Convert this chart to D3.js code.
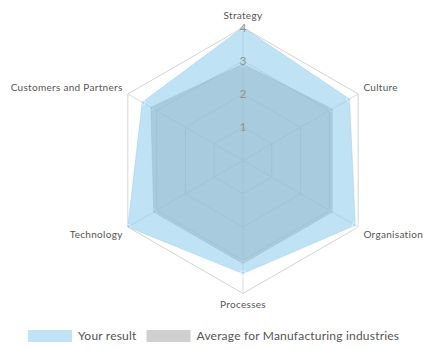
<!DOCTYPE html>
<html>
<head>
<meta charset="utf-8">
<script src="https://cdn.jsdelivr.net/npm/d3@7"></script>
<style>
  html, body { margin: 0; padding: 0; background: #fff; }
  svg { display: block; font-family: Lato, "Noto Sans", sans-serif; }
</style>
</head>
<body>
<svg id="chart" width="437" height="350"></svg>
<script>
// Radar axes, clockwise from the top
const categories = ["Strategy", "Culture", "Organisation", "Processes", "Technology", "Customers and Partners"];
// Scores per axis
const yourResult = [4, 3.7, 3.9, 3.4, 4, 3.5];
const industryAverage = [2.9, 3.1, 3.1, 3.1, 3.1, 3.2];
// Radial ticks
const ticks = [1, 2, 3, 4];
const seriesNames = ["Your result", "Average for Manufacturing industries"];

const svg = d3.select("#chart");
const cx = 243, cy = 160.5, R = 133;
const r = d3.scaleLinear().domain([0, 4]).range([0, R]);
const step = 2 * Math.PI / categories.length;
const ang = i => i * step;
const px = (i, v) => cx + r(v) * Math.sin(ang(i));
const py = (i, v) => cy - r(v) * Math.cos(ang(i));

const g = svg.append("g");

// Grid rings
ticks.forEach(t => {
  g.append("polygon")
    .attr("points", categories.map((c, i) => [px(i, t), py(i, t)].join(",")).join(" "))
    .attr("fill", "none")
    .attr("stroke", t === 4 ? "#d4d4d4" : "#dcdcdc")
    .attr("stroke-width", 1);
});
// Spokes
categories.forEach((c, i) => {
  g.append("line")
    .attr("x1", cx).attr("y1", cy)
    .attr("x2", px(i, 4)).attr("y2", py(i, 4))
    .attr("stroke", "#dcdcdc").attr("stroke-width", 1);
});

const line = d3.lineRadial()
  .angle((d, i) => ang(i))
  .radius(d => r(d))
  .curve(d3.curveLinearClosed);

const series = [
  { values: industryAverage, fill: "rgba(150,150,150,0.45)", stroke: "rgba(150,150,150,0.3)" },
  { values: yourResult, fill: "rgba(135,200,235,0.52)", stroke: "rgba(135,200,235,0.4)" }
];

series.forEach(s => {
  const sg = g.append("g").attr("transform", `translate(${cx},${cy})`);
  sg.append("path").attr("d", line(s.values)).attr("fill", s.fill).attr("stroke", s.stroke);
  sg.selectAll("circle").data(s.values).join("circle")
    .attr("cx", (d, i) => r(d) * Math.sin(ang(i)))
    .attr("cy", (d, i) => -r(d) * Math.cos(ang(i)))
    .attr("r", 3)
    .attr("fill", "none")
    .attr("stroke", "rgba(255,255,255,0.5)")
    .attr("stroke-width", 1);
});

// Tick labels along the top spoke
g.selectAll("text.tick").data(ticks).join("text")
  .attr("class", "tick")
  .attr("x", cx)
  .attr("y", d => cy - r(d))
  .attr("dy", "0.35em")
  .attr("text-anchor", "middle")
  .attr("font-size", 12)
  .attr("fill", "#929292")
  .text(d => d);

// Axis labels
categories.forEach((c, i) => {
  const a = ang(i);
  const s = Math.sin(a), co = Math.cos(a);
  let x, y, anchor;
  if (Math.abs(s) > 0.1) {
    anchor = s > 0 ? "start" : "end";
    x = cx + (R + 6) * s;
    y = cy - (R + 14) * co;
  } else {
    anchor = "middle";
    x = cx;
    y = co > 0 ? cy - R - 12 : cy + R + 11;
  }
  g.append("text")
    .attr("x", x).attr("y", y)
    .attr("dy", "0.35em")
    .attr("text-anchor", anchor)
    .attr("font-size", 10)
    .attr("letter-spacing", 0.3)
    .attr("fill", "#555")
    .text(c);
});

// Legend
const legend = svg.append("g").attr("transform", "translate(28,330)");
const legendFills = ["rgba(135,200,235,0.52)", "rgba(150,150,150,0.45)"];
let lx = 0;
seriesNames.forEach((n, i) => {
  const item = legend.append("g").attr("transform", `translate(${lx},0)`);
  item.append("rect").attr("width", 44).attr("height", 12).attr("fill", legendFills[i]);
  const t = item.append("text").attr("x", 50).attr("y", 6).attr("dy", "0.35em")
    .attr("font-size", 12).attr("letter-spacing", 0.2).attr("fill", "#555").text(n);
  lx += 50 + t.node().getComputedTextLength() + 10;
});
</script>
</body>
</html>
